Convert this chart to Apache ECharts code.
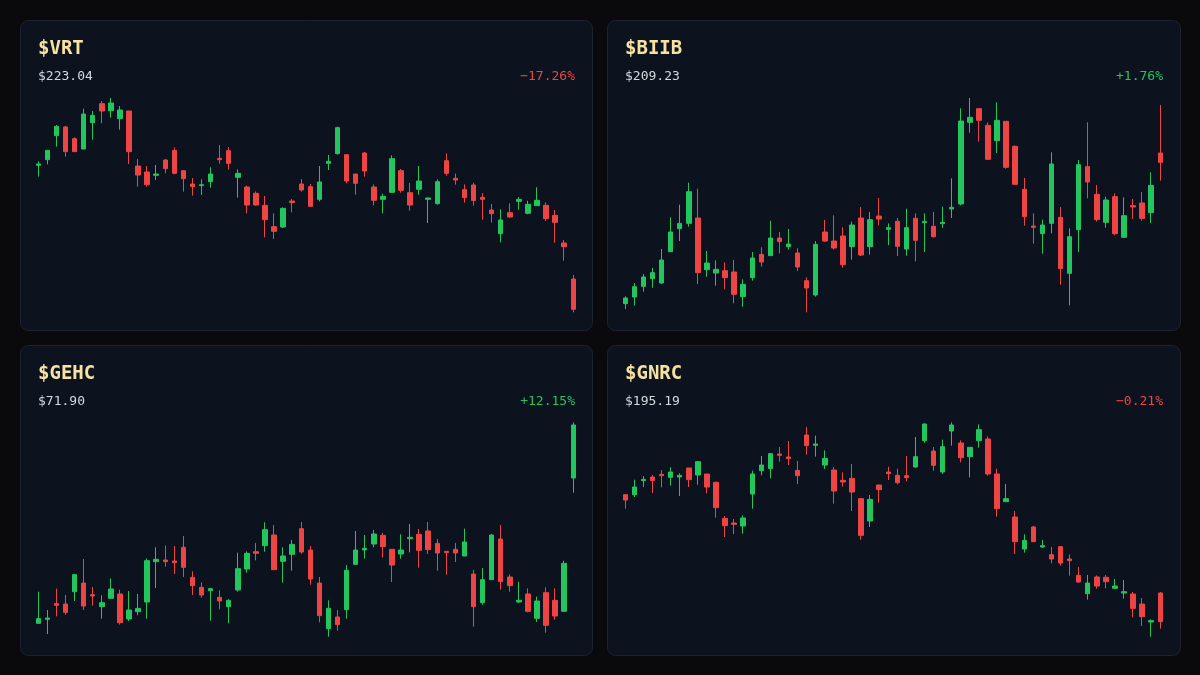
<!DOCTYPE html>
<html>
<head>
<meta charset="utf-8">
<script src="https://cdn.jsdelivr.net/npm/echarts@6/dist/echarts.min.js"></script>
<style>
  html, body { margin: 0; padding: 0; background: #0a0a0c; }
  #chart { width: 1200px; height: 675px; }
</style>
</head>
<body>
<div id="chart"></div>
<script>
// candles, [open, close, low, high], in picture units
var vrt = [
  [474,478,440,486],[491,519,477,519],[563,591,530,595],[589,515,500,592],[554,515,515,558],
  [523,628,523,644],[602,624,551,637],[659,637,600,667],[638,661,617,676],[614,640,581,652],
  [637,515,478,637],[472,445,410,493],[454,416,410,472],[444,448,430,475],[490,464,450,493],
  [519,450,447,528],[458,434,395,458],[418,410,383,436],[413,416,385,432],[425,448,407,468],
  [495,491,479,535],[518,480,461,529],[438,450,377,462],[409,355,330,413],[390,355,353,396],
  [354,311,258,382],[290,276,253,330],[289,345,286,348],[367,362,333,373],[418,400,395,433],
  [410,351,350,418],[372,424,366,472],[480,486,460,505],[509,587,506,590],[506,427,420,507],
  [448,420,386,448],[511,457,440,514],[409,369,354,417],[372,381,330,389],[393,494,393,504],
  [458,399,392,463],[392,355,338,421],[402,427,386,472],[372,376,301,378],[359,425,356,432],
  [488,450,443,510],[435,430,416,449],[401,377,362,417],[415,368,353,422],[378,372,311,391],
  [340,329,302,358],[269,310,243,342],[332,319,317,360],[366,372,341,379],[330,357,327,368],
  [353,369,353,408],[354,314,307,363],[324,303,242,340],[241,230,188,250],[133,42,33,145]
];
var biib = [
  [59,76,43,81],[79,110,53,121],[111,139,95,148],[134,152,107,166],[121,190,118,223],
  [215,274,215,318],[284,300,247,356],[300,395,290,422],[316,152,118,404],[161,181,140,217],
  [151,162,113,189],[158,137,102,183],[154,87,60,190],[80,117,50,132],[137,196,128,214],
  [207,184,170,228],[203,256,203,308],[256,245,210,274],[230,238,221,283],[211,169,157,225],
  [128,106,33,138],[85,237,80,247],[274,247,244,310],[247,226,222,324],[262,176,167,288],
  [230,295,191,305],[316,205,202,349],[230,311,206,334],[322,313,294,376],[282,287,235,300],
  [306,231,202,316],[223,287,203,344],[315,249,186,330],[302,306,214,330],[291,260,257,334],
  [299,303,287,350],[343,348,316,435],[358,607,354,645],[603,618,572,676],[644,609,545,644],
  [594,492,492,603],[548,609,511,663],[606,468,464,606],[531,417,416,534],[402,320,293,436],
  [292,288,239,330],[269,295,209,311],[300,478,270,513],[318,164,116,349],[150,260,54,285],
  [281,476,214,490],[470,424,375,603],[387,311,305,415],[303,370,287,380],[380,269,264,390],
  [258,323,256,378],[353,349,313,373],[361,315,308,394],[332,414,301,453],[511,483,428,655]
];
var gehc = [
  [60,74,60,155],[72,76,28,100],[119,114,81,164],[118,93,86,145],[155,206,127,208],
  [181,112,100,253],[146,142,113,169],[110,122,74,144],[135,163,134,195],[148,62,56,161],
  [73,100,67,157],[95,105,84,148],[124,248,74,255],[245,252,166,288],[250,245,230,293],
  [247,242,208,292],[288,228,199,322],[198,173,145,216],[168,145,137,183],[158,164,68,166],
  [138,127,102,159],[110,129,60,132],[160,224,155,272],[223,270,212,276],[275,270,249,301],
  [293,341,275,363],[325,221,220,355],[246,262,182,288],[267,297,218,310],[344,274,269,364],
  [280,193,176,292],[181,83,63,199],[44,105,20,129],[79,56,38,100],[101,219,74,235],
  [237,280,237,337],[280,285,254,325],[298,328,288,340],[324,290,257,332],[282,235,184,282],
  [268,280,254,327],[314,318,273,358],[327,279,227,343],[337,281,268,364],[300,271,218,313],
  [276,272,206,276],[282,271,244,301],[262,304,262,344],[208,110,50,220],[122,191,116,226],
  [191,325,191,328],[313,185,161,355],[199,173,155,207],[124,129,121,185],[148,96,93,165],
  [75,127,64,140],[152,54,32,168],[129,82,71,165],[96,240,96,248],[496,655,452,663]
];
var gnrc = [
  [446,430,404,446],[446,469,439,491],[488,492,469,502],[499,488,451,505],[507,503,468,520],
  [498,514,473,528],[499,504,442,510],[526,491,469,526],[505,545,476,547],[508,469,450,508],
  [483,407,377,485],[375,353,319,382],[361,357,328,373],[352,376,329,384],[448,508,404,518],
  [518,535,504,562],[524,569,495,571],[568,564,545,589],[559,554,535,607],[519,503,478,547],
  [625,593,566,649],[594,598,560,623],[535,555,523,579],[520,457,419,529],[489,484,470,513],
  [495,454,397,538],[434,324,311,436],[367,432,349,445],[475,461,422,475],[514,509,490,530],
  [504,482,477,524],[503,497,486,562],[529,560,527,619],[608,658,602,660],[577,534,518,589],
  [514,590,508,611],[637,655,593,663],[601,557,543,609],[560,588,498,588],[608,641,587,657],
  [613,508,503,621],[508,404,380,524],[425,434,425,478],[379,305,268,397],[283,309,272,327],
  [349,305,305,352],[289,293,287,310],[266,253,240,289],[290,241,233,292],[253,248,203,267],
  [204,184,182,229],[149,181,131,205],[199,172,164,204],[198,185,165,205],[165,172,165,193],
  [151,155,134,190],[148,105,78,154],[118,80,52,136],[64,68,20,72],[151,65,44,154]
];

var tickers = ['$VRT', '$BIIB', '$GEHC', '$GNRC'];
var prices = ['$223.04', '$209.23', '$71.90', '$195.19'];
var changes = ['−17.26%', '+1.76%', '+12.15%', '−0.21%'];
var seriesData = [vrt, biib, gehc, gnrc];

var UP = '#22c55e', DOWN = '#ef4444';
var mono = '"DejaVu Sans Mono", monospace';

// panel boxes: [x, y, w, h]
var panels = [[20, 20, 572, 310], [607, 20, 573, 310], [20, 345, 572, 310], [607, 345, 573, 310]];
// plot areas: [left, top]
var plots = [[33.8, 90], [620.8, 90], [33.8, 410], [620.8, 410]];

var chart = echarts.init(document.getElementById('chart'));

var graphics = [];
var grids = [], xAxes = [], yAxes = [], series = [];
panels.forEach(function (p, i) {
  graphics.push({
    type: 'rect', z: -10,
    shape: { x: p[0] + 0.5, y: p[1] + 0.5, width: p[2], height: p[3], r: 8 },
    style: { fill: '#0c121e', stroke: '#1c2330', lineWidth: 1 }
  });
  graphics.push({
    type: 'text', left: p[0] + 18, top: p[1] + 20,
    style: { text: tickers[i], fill: '#f6e3a1', font: 'bold 19px ' + mono }
  });
  graphics.push({
    type: 'text', left: p[0] + 18, top: p[1] + 50,
    style: { text: prices[i], fill: '#d6d9df', font: '13px ' + mono }
  });
  graphics.push({
    type: 'text', right: 1200 - (p[0] + p[2] - 17), top: p[1] + 50,
    style: { text: changes[i], fill: changes[i].charAt(0) === '+' ? UP : DOWN, font: '13px ' + mono, textAlign: 'right' }
  });

  var d = seriesData[i];
  grids.push({ left: plots[i][0], top: plots[i][1], width: 544, height: 230 });
  xAxes.push({
    type: 'category', gridIndex: i, show: false,
    data: d.map(function (_, k) { return k + 1; })
  });
  yAxes.push({ type: 'value', gridIndex: i, show: false, min: 10, max: 700, splitLine: { show: false } });
  series.push({
    type: 'candlestick', xAxisIndex: i, yAxisIndex: i,
    data: d, barWidth: 5,
    itemStyle: { color: UP, color0: DOWN, borderColor: UP, borderColor0: DOWN, borderWidth: 1 }
  });
});

chart.setOption({
  backgroundColor: '#0a0a0c',
  animation: false,
  graphic: graphics,
  grid: grids,
  xAxis: xAxes,
  yAxis: yAxes,
  series: series
});
</script>
</body>
</html>
